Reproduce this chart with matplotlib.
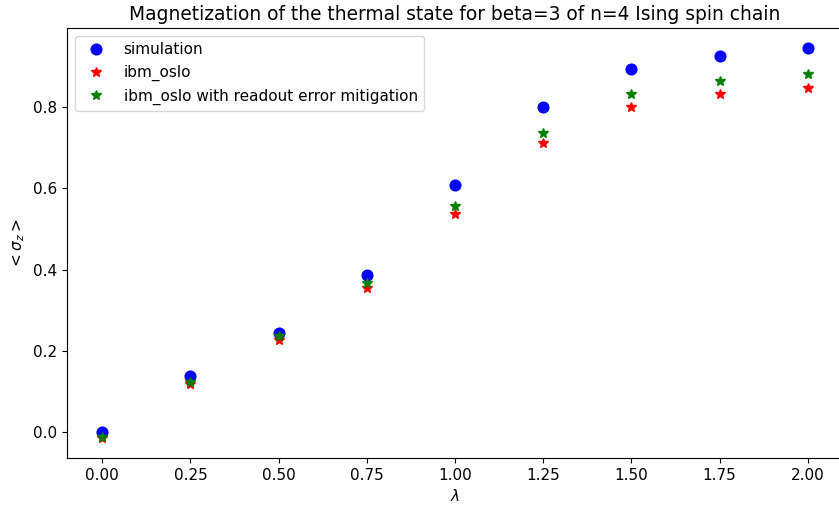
import matplotlib
matplotlib.use("Agg")
import matplotlib.pyplot as plt

lam = [0.0, 0.25, 0.5, 0.75, 1.0, 1.25, 1.5, 1.75, 2.0]
simulation = [0.0, 0.138, 0.244, 0.386, 0.608, 0.799, 0.893, 0.925, 0.944]
ibm_oslo = [-0.015, 0.119, 0.226, 0.354, 0.537, 0.711, 0.800, 0.831, 0.846]
ibm_oslo_mitigated = [-0.012, 0.124, 0.236, 0.366, 0.556, 0.736, 0.831, 0.862, 0.879]

plt.rcParams['font.size'] = 11

fig = plt.figure(figsize=(8.39, 5.11), dpi=100)
ax = fig.add_axes([67 / 839, 53 / 511, 776 / 839, 429.5 / 511])

ax.plot(lam, simulation, 'bo', markersize=7.7, label="simulation")
ax.plot(lam, ibm_oslo, 'r*', markersize=7, label="ibm_oslo")
ax.plot(lam, ibm_oslo_mitigated, 'g*', markersize=7, label="ibm_oslo with readout error mitigation")

ax.set_title("Magnetization of the thermal state for beta=3 of n=4 Ising spin chain", fontsize=13.4)
ax.set_xlabel(r"$\lambda$")
ax.set_ylabel(r"$<\sigma_z>$")
ax.set_xticks(lam)
ax.legend(loc="upper left")

fig.savefig("out.png", dpi=100)
